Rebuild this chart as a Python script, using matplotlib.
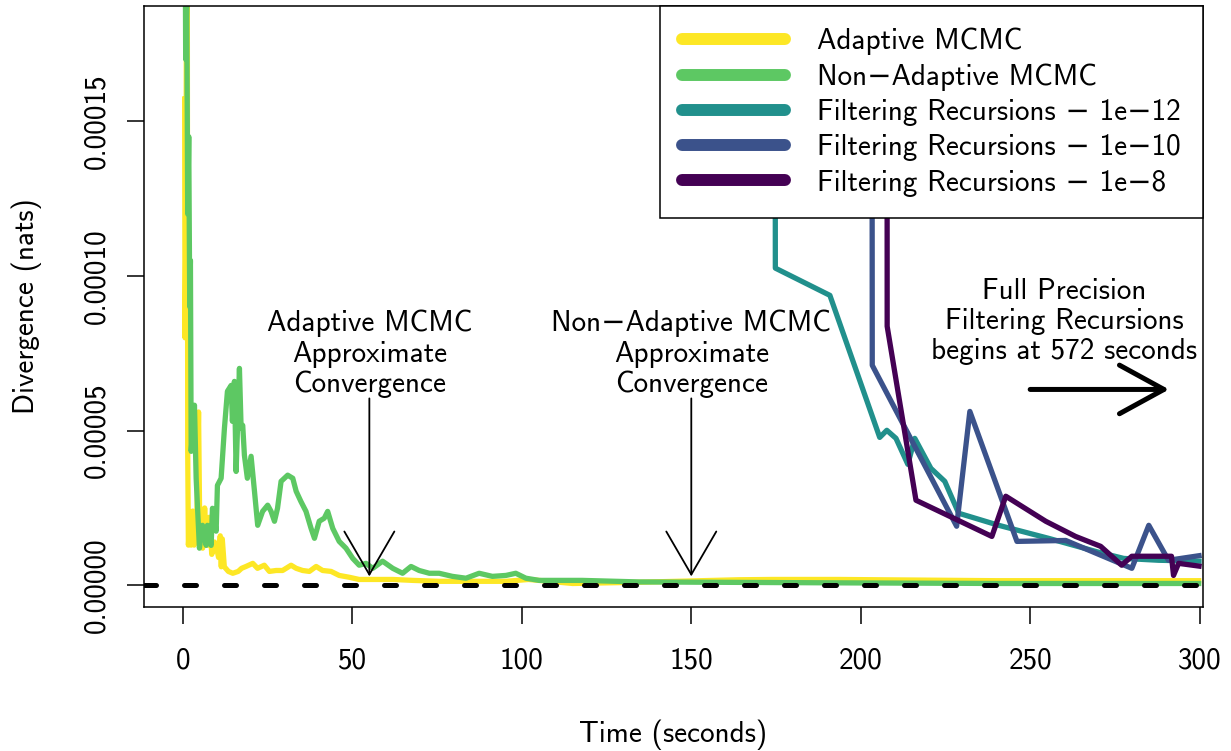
import numpy as np
import matplotlib
matplotlib.use("Agg")
import matplotlib.pyplot as plt

plt.rcParams["font.family"] = ["cmss10", "DejaVu Sans"]
plt.rcParams["font.size"] = 21
plt.rcParams["axes.unicode_minus"] = False

MINUS = "\u2212"

# divergence values below are in units of 1e-5 nats, time in seconds
adaptiveTime = [0.5, 0.6, 0.9, 1.2, 1.4, 1.6, 2.0, 2.4, 2.9, 3.3, 4.0, 4.6, 5.0, 5.8,
                6.4, 6.9, 7.3, 7.8, 8.5, 9.3, 9.8, 10.5, 11.0, 11.3, 11.6, 12.2, 13.4,
                14.7, 16.3, 17.3, 18.6, 20.6, 22.0, 24.0, 25.5, 27.5, 29.4, 31.9, 33.4,
                35.3, 37.3, 39.3, 41.2, 43.7, 46.1, 49.1, 52.0, 56.0, 61.9, 67.8, 75.6,
                85.4, 95.3, 102.0, 115.0, 134.6, 164.0, 174.0, 193.5, 240.0, 300.5]
adaptiveDiv = [15.8, 8.0, 12.0, 30.0, 4.3, 1.3, 2.0, 1.3, 2.4, 1.3, 1.5, 5.6, 1.3, 1.2,
               2.5, 1.5, 1.3, 2.2, 1.0, 1.4, 1.3, 0.9, 1.6, 0.6, 1.5, 0.6, 0.45,
               0.39, 0.45, 0.55, 0.61, 0.71, 0.55, 0.65, 0.45, 0.48, 0.48, 0.65, 0.55,
               0.48, 0.45, 0.61, 0.48, 0.45, 0.32, 0.26, 0.19, 0.19, 0.19, 0.16, 0.13,
               0.13, 0.13, 0.19, 0.06, 0.10, 0.18, 0.19, 0.19, 0.15, 0.15]

nonAdaptiveTime = [0.4, 0.8, 1.1, 1.4, 1.7, 2.0, 2.2, 2.42, 3.39, 3.89, 4.86, 5.75, 6.84,
                   7.22, 8.31, 8.70, 9.79, 10.17, 11.26, 12.23, 13.12, 14.21, 14.59,
                   15.18, 15.68, 16.66, 17.16, 17.63, 18.13, 19.0, 20.1, 21.1, 22.05,
                   23.5, 25.0, 26.0, 27.0, 27.9, 28.95, 30.9, 32.4, 33.4, 34.8, 36.3,
                   37.8, 38.8, 40.2, 41.7, 42.7, 44.2, 46.1, 48.1, 50.1, 52.0, 54.0,
                   56.0, 58.9, 61.9, 64.8, 67.3, 69.7, 72.7, 75.6, 79.5, 83.5, 87.4,
                   91.3, 95.3, 98.2, 101.2, 105.1, 117.8, 134.6, 154.3, 193.5, 240.7,
                   300.5]
nonAdaptiveDiv = [28.0, 17.0, 19.0, 12.0, 14.5, 9.0, 10.5, 4.33, 5.82, 3.46, 1.20, 1.94,
                  1.29, 1.94, 1.29, 2.49, 1.75, 3.23, 3.46, 5.07, 6.27, 6.46, 5.30,
                  6.59, 3.68, 7.01, 5.07, 5.17, 4.20, 3.46, 4.17, 3.04, 1.94,
                  2.39, 2.59, 2.39, 2.07, 2.49, 3.36, 3.56, 3.46, 3.04, 2.71, 2.39,
                  1.84, 1.52, 2.07, 2.17, 2.39, 1.84, 1.42, 1.20, 0.87, 0.65, 0.71,
                  0.55, 0.78, 0.55, 0.39, 0.61, 0.48, 0.39, 0.39, 0.29, 0.23, 0.39,
                  0.29, 0.32, 0.39, 0.23, 0.16, 0.16, 0.11, 0.10, 0.08, 0.06,
                  0.06]

filter12Time = [174.6, 174.8, 190.9, 205.6, 207.7, 210.4, 213.9, 215.95, 220.7, 224.8,
                228.9, 240.7, 255.4, 270.2, 277.6, 287.9, 300.6]
filter12Div = [40.0, 10.25, 9.37, 4.78, 5.01, 4.75, 3.91, 4.75, 3.78, 3.36,
               2.33, 1.94, 1.52, 1.07, 0.87, 0.81, 0.78]

filter10Time = [203.2, 203.4, 228.3, 232.2, 246.1, 260.5, 280.0, 285.0, 290.8, 300.6]
filter10Div = [40.0, 7.11, 1.91, 5.62, 1.42, 1.45, 0.55, 1.94, 0.81, 0.97]

filter8Time = [207.7, 207.8, 216.3, 238.7, 242.8, 254.6, 263.4, 270.8, 277.0, 280.0,
               291.7, 292.3, 293.8, 300.6]
filter8Div = [40.0, 8.37, 2.75, 1.58, 2.88, 2.07, 1.58, 1.26, 0.65, 0.94,
              0.94, 0.32, 0.71, 0.61]

seriesNames = ["Adaptive MCMC", f"Non{MINUS}Adaptive MCMC",
               f"Filtering Recursions {MINUS} 1e{MINUS}12",
               f"Filtering Recursions {MINUS} 1e{MINUS}10",
               f"Filtering Recursions {MINUS} 1e{MINUS}8"]
seriesColors = ["#FDE725", "#5DC863", "#21908C", "#3B528B", "#440154"]

xTicks = [0, 50, 100, 150, 200, 250, 300]
yTicks = [0, 5e-5, 1e-4, 1.5e-4]
yTickLabels = ["0.00000", "0.00005", "0.00010", "0.00015"]

fig = plt.figure(figsize=(12.31, 7.51), dpi=100)
ax = fig.add_axes([144 / 1231, 1 - 607 / 751, 1059 / 1231, 601 / 751])

allSeries = [(adaptiveTime, adaptiveDiv), (nonAdaptiveTime, nonAdaptiveDiv),
             (filter12Time, filter12Div), (filter10Time, filter10Div),
             (filter8Time, filter8Div)]
for (t, d), name, col in zip(allSeries, seriesNames, seriesColors):
    ax.plot(t, np.array(d) * 1e-5, color=col, lw=3.8, label=name,
            solid_joinstyle="round", solid_capstyle="butt")

ax.axhline(0, color="black", lw=3.6, dashes=(2.4, 5.6), dash_capstyle="round")

ax.set_xlim(-11.5, 301)
ax.set_ylim(-7.0e-6, 1.872e-4)
ax.set_xticks(xTicks)
ax.set_xticklabels([str(v) for v in xTicks])
ax.set_yticks(yTicks)
ax.set_yticklabels(yTickLabels, rotation=90, va="center")
ax.tick_params(axis="both", length=12.5, width=1.1, direction="out")
ax.tick_params(axis="x", pad=17)
ax.tick_params(axis="y", pad=12)
for s in ax.spines.values():
    s.set_linewidth(1.1)

ax.set_xlabel("Time (seconds)")
ax.xaxis.set_label_coords(0.5, (607 - 735) / 601)
ax.xaxis.label.set_va("center")
ax.set_ylabel("Divergence (nats)")
ax.yaxis.set_label_coords((27 - 144) / 1059, 0.5)
ax.yaxis.label.set_va("center")

# convergence markers
arrowThin = dict(arrowstyle="->,head_length=3.1,head_width=1.8", lw=1.3,
                 color="black", shrinkA=0, shrinkB=0, mutation_scale=10)
ax.annotate("", xy=(55, 0.29e-5), xytext=(55, 6.04e-5), arrowprops=arrowThin)
ax.annotate("", xy=(150, 0.29e-5), xytext=(150, 6.04e-5), arrowprops=arrowThin)
ax.text(55, 7.47e-5, "Adaptive MCMC\nApproximate\nConvergence",
        ha="center", va="center", multialignment="center", linespacing=1.15)
ax.text(150, 7.47e-5, f"Non{MINUS}Adaptive MCMC\nApproximate\nConvergence",
        ha="center", va="center", multialignment="center", linespacing=1.15)

ax.text(260, 8.52e-5, "Full Precision\nFiltering Recursions\nbegins at 572 seconds",
        ha="center", va="center", multialignment="center", linespacing=1.15)
arrowBig = dict(arrowstyle="->,head_length=3.2,head_width=1.75", lw=3.6,
                color="black", shrinkA=0, shrinkB=0, mutation_scale=10,
                capstyle="round", joinstyle="round")
ax.annotate("", xy=(291, 6.33e-5), xytext=(250, 6.33e-5), arrowprops=arrowBig)

leg = ax.legend(loc="upper right", borderaxespad=0, fancybox=False,
                edgecolor="black", framealpha=1, handlelength=3.55,
                handletextpad=1.1, borderpad=0.75, labelspacing=0.28)
leg.get_frame().set_linewidth(1.1)
for h in leg.legend_handles:
    h.set_linewidth(8.6)
    h.set_solid_capstyle("round")

fig.savefig("out.png", dpi=100)
